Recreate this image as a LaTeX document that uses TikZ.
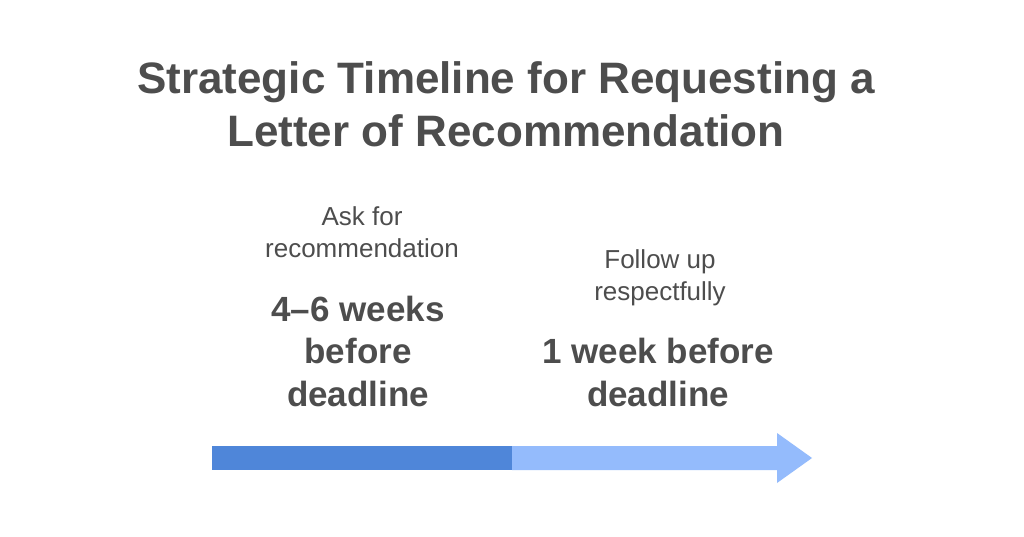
\documentclass[tikz,border=0pt]{standalone}
\usepackage{fontspec}
\setmainfont{Liberation Sans}
\definecolor{txt}{HTML}{4D4D4D}
\definecolor{darkbar}{HTML}{4F86D9}
\definecolor{lightbar}{HTML}{94BBFC}
\begin{document}
\begin{tikzpicture}[x=1pt,y=-1pt,
  title/.style={text=txt,font=\bfseries\fontsize{44}{53}\selectfont,align=center,anchor=base,inner sep=0pt},
  phase/.style={text=txt,font=\fontsize{26}{32}\selectfont,align=center,anchor=base,inner sep=0pt},
  when/.style={text=txt,font=\bfseries\fontsize{35}{42.5}\selectfont,align=center,anchor=base,inner sep=0pt}]
\useasboundingbox[fill=white] (0,0) rectangle (1024,536);
\node[title] (t) at (506,146) {Strategic Timeline for Requesting a\\Letter of Recommendation};
\node[phase] (p1) at (362,257) {Ask for\\recommendation};
\node[when] (w1) at (358,406) {4–6 weeks\\before\\deadline};
\node[phase] (p2) at (660,300) {Follow up\\respectfully};
\node[when] (w2) at (658,406) {1 week before\\deadline};
\fill[darkbar] (212,446) rectangle (512,470);
\fill[lightbar] (512,446) -- (777,446) -- (777,433) -- (812,458) -- (777,483) -- (777,470) -- (512,470) -- cycle;
\end{tikzpicture}
\end{document}
